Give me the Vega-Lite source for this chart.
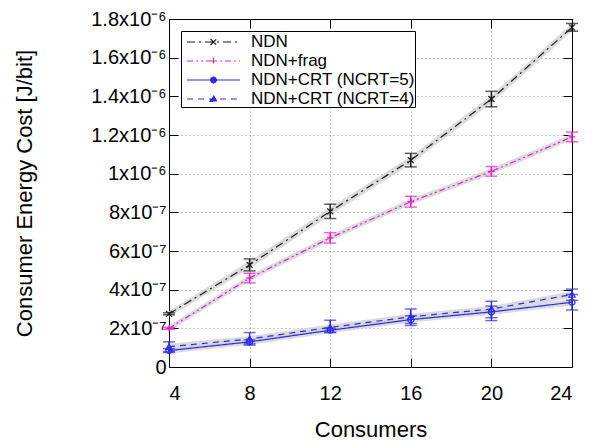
{
  "$schema": "https://vega.github.io/schema/vega-lite/v6.json",
  "width": 403,
  "height": 348,
  "autosize": {"type": "none"},
  "padding": {"left": 169, "top": 19, "right": 35, "bottom": 79},
  "config": {
    "font": "Liberation Sans",
    "view": {"stroke": "black", "strokeWidth": 1},
    "axis": {
      "domainColor": "black", "tickColor": "black", "labelColor": "black", "titleColor": "black",
      "labelFontSize": 20, "titleFontSize": 22, "titleFontWeight": "normal",
      "gridDash": [1, 3], "gridColor": "#9a9a9a", "gridWidth": 1
    },
    "legend": {
      "orient": "top-left", "offset": 12, "symbolSize": 400, "symbolStrokeWidth": 1.2, "symbolFillColor": "transparent", "symbolOpacity": 1,
      "labelFontSize": 17, "labelColor": "black", "labelLimit": 300, "labelOffset": 48, "rowPadding": 0,
      "strokeColor": "black", "fillColor": "white", "padding": 0
    }
  },
  "data": {"values": [
    {"s": "NDN", "x": 4, "y": 2.75e-7, "lo": 2.7e-7, "hi": 2.8e-7, "blo": 2.6e-7, "bhi": 2.9e-7},
    {"s": "NDN", "x": 8, "y": 5.28e-7, "lo": 4.97e-7, "hi": 5.59e-7, "blo": 5.08e-7, "bhi": 5.48e-7},
    {"s": "NDN", "x": 12, "y": 8.05e-7, "lo": 7.68e-7, "hi": 8.42e-7, "blo": 7.85e-7, "bhi": 8.25e-7},
    {"s": "NDN", "x": 16, "y": 1.07e-6, "lo": 1.035e-6, "hi": 1.105e-6, "blo": 1.05e-6, "bhi": 1.09e-6},
    {"s": "NDN", "x": 20, "y": 1.386e-6, "lo": 1.346e-6, "hi": 1.426e-6, "blo": 1.366e-6, "bhi": 1.406e-6},
    {"s": "NDN", "x": 24, "y": 1.757e-6, "lo": 1.737e-6, "hi": 1.777e-6, "blo": 1.737e-6, "bhi": 1.777e-6},
    {"s": "NDN+frag", "x": 4, "y": 2.0e-7, "lo": 1.95e-7, "hi": 2.05e-7, "blo": 1.85e-7, "bhi": 2.15e-7},
    {"s": "NDN+frag", "x": 8, "y": 4.6e-7, "lo": 4.35e-7, "hi": 4.85e-7, "blo": 4.45e-7, "bhi": 4.75e-7},
    {"s": "NDN+frag", "x": 12, "y": 6.68e-7, "lo": 6.41e-7, "hi": 6.95e-7, "blo": 6.53e-7, "bhi": 6.83e-7},
    {"s": "NDN+frag", "x": 16, "y": 8.55e-7, "lo": 8.27e-7, "hi": 8.83e-7, "blo": 8.4e-7, "bhi": 8.7e-7},
    {"s": "NDN+frag", "x": 20, "y": 1.012e-6, "lo": 9.87e-7, "hi": 1.037e-6, "blo": 9.97e-7, "bhi": 1.027e-6},
    {"s": "NDN+frag", "x": 24, "y": 1.19e-6, "lo": 1.165e-6, "hi": 1.215e-6, "blo": 1.175e-6, "bhi": 1.205e-6},
    {"s": "NDN+CRT (NCRT=5)", "x": 4, "y": 8.5e-8, "lo": 7.5e-8, "hi": 9.5e-8, "blo": 7.0e-8, "bhi": 1.0e-7},
    {"s": "NDN+CRT (NCRT=5)", "x": 8, "y": 1.3e-7, "lo": 1.2e-7, "hi": 1.4e-7, "blo": 1.15e-7, "bhi": 1.45e-7},
    {"s": "NDN+CRT (NCRT=5)", "x": 12, "y": 1.9e-7, "lo": 1.8e-7, "hi": 2.0e-7, "blo": 1.75e-7, "bhi": 2.05e-7},
    {"s": "NDN+CRT (NCRT=5)", "x": 16, "y": 2.45e-7, "lo": 2.25e-7, "hi": 2.65e-7, "blo": 2.3e-7, "bhi": 2.6e-7},
    {"s": "NDN+CRT (NCRT=5)", "x": 20, "y": 2.85e-7, "lo": 2.55e-7, "hi": 3.15e-7, "blo": 2.7e-7, "bhi": 3.0e-7},
    {"s": "NDN+CRT (NCRT=5)", "x": 24, "y": 3.35e-7, "lo": 2.95e-7, "hi": 3.75e-7, "blo": 3.18e-7, "bhi": 3.52e-7},
    {"s": "NDN+CRT (NCRT=4)", "x": 4, "y": 1.05e-7, "lo": 8.0e-8, "hi": 1.3e-7, "blo": 9.0e-8, "bhi": 1.2e-7},
    {"s": "NDN+CRT (NCRT=4)", "x": 8, "y": 1.45e-7, "lo": 1.13e-7, "hi": 1.78e-7, "blo": 1.3e-7, "bhi": 1.6e-7},
    {"s": "NDN+CRT (NCRT=4)", "x": 12, "y": 2.05e-7, "lo": 1.78e-7, "hi": 2.42e-7, "blo": 1.9e-7, "bhi": 2.2e-7},
    {"s": "NDN+CRT (NCRT=4)", "x": 16, "y": 2.6e-7, "lo": 2.15e-7, "hi": 3.0e-7, "blo": 2.45e-7, "bhi": 2.75e-7},
    {"s": "NDN+CRT (NCRT=4)", "x": 20, "y": 3.0e-7, "lo": 2.4e-7, "hi": 3.4e-7, "blo": 2.85e-7, "bhi": 3.15e-7},
    {"s": "NDN+CRT (NCRT=4)", "x": 24, "y": 3.75e-7, "lo": 3.45e-7, "hi": 4.03e-7, "blo": 3.58e-7, "bhi": 3.92e-7}
  ]},
  "layer": [
    {
      "mark": {"type": "area", "color": "#cfcfcf", "opacity": 0.75},
      "encoding": {
        "x": {"field": "x", "type": "quantitative", "scale": {"domain": [4, 24], "nice": false},
          "axis": {"orient": "bottom", "title": "Consumers", "values": [4, 8, 12, 16, 20, 24], "tickSize": -9, "labelPadding": 25, "titlePadding": 16, "grid": true}},
        "y": {"field": "blo", "type": "quantitative", "scale": {"domain": [0, 1.8e-6], "nice": false},
          "axis": {"orient": "left", "title": "Consumer Energy Cost [J/bit]", "tickSize": -9,
            "values": [0, 2e-7, 4e-7, 6e-7, 8e-7, 1e-6, 1.2e-6, 1.4e-6, 1.6e-6, 1.8e-6],
            "labelExpr": "datum.value < 1e-9 ? '0' : datum.value < 9.9e-7 ? format(datum.value*1e7,'.0f') + 'x10⁻⁷' : format(datum.value*1e6,'.1~f') + 'x10⁻⁶'",
            "labelPadding": 12, "titlePadding": 54, "grid": true}},
        "y2": {"field": "bhi"},
        "detail": {"field": "s"}
      }
    },
    {
      "mark": {"type": "errorbar", "ticks": {"size": 12}, "thickness": 1.5},
      "encoding": {
        "x": {"field": "x", "type": "quantitative", "axis": null},
        "y": {"field": "lo", "type": "quantitative", "axis": null},
        "y2": {"field": "hi"},
        "color": {"field": "s", "type": "nominal", "title": null}
      }
    },
    {
      "mark": {"type": "point", "opacity": 0},
      "encoding": {
        "x": {"field": "x", "type": "quantitative",
          "axis": {"orient": "top", "labels": false, "title": null, "tickSize": -9, "grid": false, "values": [4, 8, 12, 16, 20, 24]}},
        "y": {"field": "y", "type": "quantitative",
          "axis": {"orient": "right", "labels": false, "title": null, "tickSize": -9, "grid": false,
            "values": [0, 2e-7, 4e-7, 6e-7, 8e-7, 1e-6, 1.2e-6, 1.4e-6, 1.6e-6, 1.8e-6]}}
      }
    },
    {
      "mark": {"type": "line", "strokeWidth": 1.2},
      "encoding": {
        "x": {"field": "x", "type": "quantitative", "axis": null},
        "y": {"field": "y", "type": "quantitative", "axis": null},
        "color": {"field": "s", "type": "nominal", "title": null,
          "scale": {"domain": ["NDN", "NDN+frag", "NDN+CRT (NCRT=5)", "NDN+CRT (NCRT=4)"], "range": ["#1a1a1a", "#e31cce", "#2b2be3", "#2b2be3"]}},
        "strokeDash": {"field": "s", "type": "nominal", "title": null,
          "scale": {"domain": ["NDN", "NDN+frag", "NDN+CRT (NCRT=5)", "NDN+CRT (NCRT=4)"], "range": [[8, 4, 2, 4], [6, 3, 2, 3, 2, 3], [1, 0], [6, 5]]}}
      }
    },
    {
      "transform": [{"filter": {"field": "s", "equal": "NDN"}}],
      "mark": {"type": "point", "shape": "M-1,-1L1,1M-1,1L1,-1", "filled": false, "opacity": 1, "size": 36, "strokeWidth": 1.2},
      "encoding": {
        "x": {"field": "x", "type": "quantitative", "axis": null},
        "y": {"field": "y", "type": "quantitative", "axis": null},
        "color": {"field": "s", "type": "nominal", "title": null}
      }
    },
    {
      "transform": [{"filter": {"field": "s", "equal": "NDN+frag"}}],
      "mark": {"type": "point", "shape": "M-1,0L1,0M0,-1L0,1", "filled": false, "opacity": 1, "size": 40, "strokeWidth": 1.2},
      "encoding": {
        "x": {"field": "x", "type": "quantitative", "axis": null},
        "y": {"field": "y", "type": "quantitative", "axis": null},
        "color": {"field": "s", "type": "nominal", "title": null}
      }
    },
    {
      "transform": [{"filter": {"field": "s", "equal": "NDN+CRT (NCRT=5)"}}],
      "mark": {"type": "point", "shape": "circle", "filled": false, "opacity": 1, "size": 36, "strokeWidth": 1.2},
      "encoding": {
        "x": {"field": "x", "type": "quantitative", "axis": null},
        "y": {"field": "y", "type": "quantitative", "axis": null},
        "color": {"field": "s", "type": "nominal", "title": null}
      }
    },
    {
      "transform": [{"filter": {"field": "s", "equal": "NDN+CRT (NCRT=4)"}}],
      "mark": {"type": "point", "shape": "triangle-up", "filled": false, "opacity": 1, "size": 40, "strokeWidth": 1.2},
      "encoding": {
        "x": {"field": "x", "type": "quantitative", "axis": null},
        "y": {"field": "y", "type": "quantitative", "axis": null},
        "color": {"field": "s", "type": "nominal", "title": null}
      }
    },
    {
      "transform": [{"filter": "false"}],
      "mark": {"type": "point", "filled": false, "opacity": 1, "strokeWidth": 1.2},
      "encoding": {
        "x": {"field": "x", "type": "quantitative", "axis": null},
        "y": {"field": "y", "type": "quantitative", "axis": null},
        "color": {"field": "s", "type": "nominal", "title": null},
        "strokeDash": {"field": "s", "type": "nominal", "title": null},
        "shape": {"field": "s", "type": "nominal", "title": null,
          "scale": {"domain": ["NDN", "NDN+frag", "NDN+CRT (NCRT=5)", "NDN+CRT (NCRT=4)"],
            "range": [
              "M-0.5,0L4.8,0M1.85,-0.3L2.45,0.3M1.85,0.3L2.45,-0.3",
              "M-0.5,0L4.8,0M1.8,0L2.5,0M2.15,-0.35L2.15,0.35",
              "M-0.5,0L4.8,0M2.45,0L2.362,0.212L2.15,0.3L1.938,0.212L1.85,0L1.938,-0.212L2.15,-0.3L2.362,-0.212Z",
              "M-0.5,0L4.8,0M2.15,-0.35L2.5,0.25L1.8,0.25Z"
            ]}}
      }
    }
  ],
  "resolve": {"axis": {"x": "independent", "y": "independent"}}
}
